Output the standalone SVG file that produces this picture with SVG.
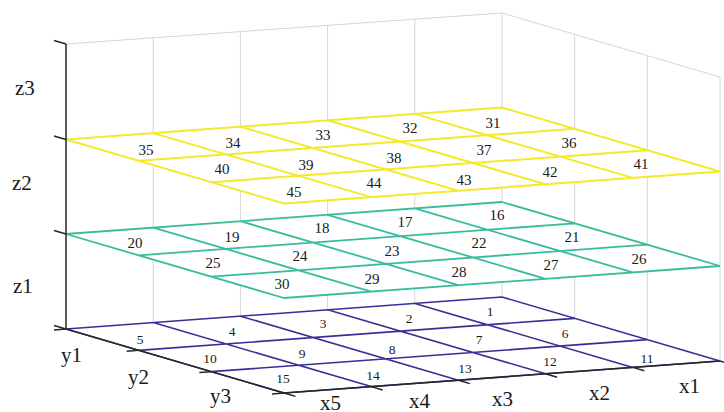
<svg xmlns="http://www.w3.org/2000/svg" xmlns:xlink="http://www.w3.org/1999/xlink" width="724" height="412" viewBox="0 0 724 412">
<style>
.grid{stroke:#d6d6d6;stroke-width:1;fill:none}
.axis{stroke:#262626;stroke-width:1.5;fill:none}
text{font-family:"Liberation Serif","DejaVu Serif",serif;fill:#1a1a1a}
.num text{font-size:15px;text-anchor:middle}
.numb text{font-size:13.5px;text-anchor:middle}
.lab text{font-size:21px}
</style>
<defs>
<g id="plane">
<polygon points="66,0 502,-32 720,32 284,64" fill="#ffffff" stroke="none"/>
<path fill="none" d="M66,0 L502,-32 M138.67,21.33 L574.67,-10.67 M211.33,42.67 L647.33,10.67 M284,64 L720,32 M66,0 L284,64 M153.2,-6.4 L371.2,57.6 M240.4,-12.8 L458.4,51.2 M327.6,-19.2 L545.6,44.8 M414.8,-25.6 L632.8,38.4 M502,-32 L720,32"/>
</g>
</defs>
<g id="walls" class="grid">
<path d="M66,44 L502,13 L720,77 M153.2,37.6 V322.6 M240.4,31.2 V316.2 M327.6,24.8 V309.8 M414.8,18.4 V303.4 M502,13 V297 M574.67,34.3 V318.3 M647.33,55.7 V339.7 M720,77 V361"/>
</g>
<g id="layer1">
<use xlink:href="#plane" href="#plane" transform="translate(0,329)" stroke="#3b2d96" stroke-width="1.6"/>
<g class="numb" font-family="Liberation Serif, serif">
<text x="490" y="315.5">1</text><text x="409" y="322.5">2</text><text x="323" y="327.5">3</text><text x="232" y="335.5">4</text><text x="140" y="343.5">5</text>
<text x="565" y="337.5">6</text><text x="479" y="343.5">7</text><text x="392" y="353.5">8</text><text x="302" y="357.5">9</text><text x="210" y="362.5">10</text>
<text x="647" y="362.5">11</text><text x="550" y="365.5">12</text><text x="465" y="372.5">13</text><text x="373" y="379.5">14</text><text x="283" y="382.5">15</text>
</g>
</g>
<g id="layer2">
<use xlink:href="#plane" href="#plane" transform="translate(0,234)" stroke="#38bc9e" stroke-width="1.8"/>
<g class="num" font-family="Liberation Serif, serif">
<text x="497" y="220">16</text><text x="405" y="227">17</text><text x="322" y="233">18</text><text x="232" y="242">19</text><text x="135" y="248">20</text>
<text x="572" y="242">21</text><text x="479" y="248">22</text><text x="392" y="256">23</text><text x="300" y="261">24</text><text x="213" y="268">25</text>
<text x="639" y="264">26</text><text x="551" y="270">27</text><text x="459" y="277">28</text><text x="372" y="284">29</text><text x="282" y="289">30</text>
</g>
</g>
<g id="layer3">
<use xlink:href="#plane" href="#plane" transform="translate(0,139.5)" stroke="#f3ea2c" stroke-width="2"/>
<g class="num" font-family="Liberation Serif, serif">
<text x="493" y="128">31</text><text x="410" y="133">32</text><text x="323" y="140">33</text><text x="233" y="148">34</text><text x="146" y="155">35</text>
<text x="569" y="148">36</text><text x="484" y="155">37</text><text x="394" y="163">38</text><text x="306" y="170">39</text><text x="222" y="174">40</text>
<text x="641" y="169">41</text><text x="550" y="177">42</text><text x="464" y="185">43</text><text x="374" y="188">44</text><text x="294" y="197">45</text>
</g>
</g>
<g id="axes" class="axis">
<path d="M66,44 V329 L284,393 L720,361"/>
<path d="M66,44 l-12,-3.5 M66,139.5 l-12,-3.5 M66,234 l-12,-3.5 M66,329 l-12,-3.5 M66,329 l-12,0.9 M138.67,350.33 l-12,0.9 M211.33,371.67 l-12,0.9 M284,393 l-12,0.9 M284,393 l11.5,3.4 M371.2,386.6 l11.5,3.4 M458.4,380.2 l11.5,3.4 M545.6,373.8 l11.5,3.4 M632.8,367.4 l11.5,3.4 M720,361 l11.5,3.4"/>
</g>
<g id="labels" class="lab" font-family="Liberation Serif, serif">
<text x="15" y="95">z3</text><text x="12" y="190">z2</text><text x="13" y="293">z1</text>
<text x="61" y="362">y1</text><text x="128" y="384">y2</text><text x="210" y="403">y3</text>
<text x="320" y="410">x5</text><text x="409" y="408">x4</text><text x="492" y="406">x3</text><text x="589" y="400">x2</text><text x="679" y="393">x1</text>
</g>
</svg>
